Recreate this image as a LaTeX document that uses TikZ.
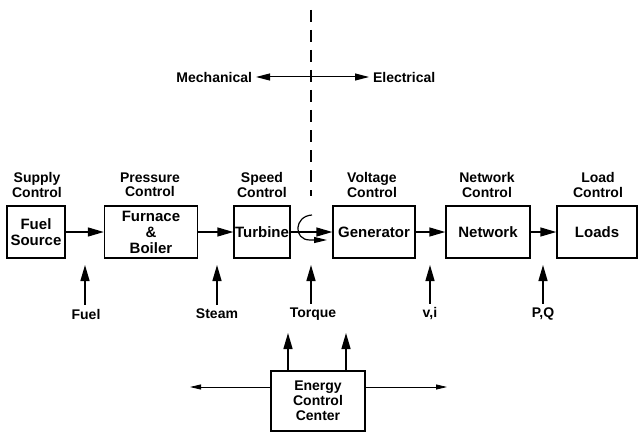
\documentclass[tikz,border=0pt]{standalone}
\usepackage{fontspec}
\setmainfont{Liberation Sans}
\usetikzlibrary{arrows.meta}

\begin{document}
\begin{tikzpicture}[x=1pt, y=-1pt, line width=1.4pt,
  font=\fontsize{14}{15}\selectfont\bfseries,
  block/.style={draw, inner sep=0pt, minimum height=52pt, align=center,
    font=\fontsize{15}{16}\selectfont\bfseries},
  ctrl/.style={align=center, font=\fontsize{14}{14.5}\selectfont\bfseries},
  flow/.style={-{Triangle[length=16pt,width=9pt]}},
  thinflow/.style={line width=0.8pt, -{Triangle[length=11pt,width=5pt]}}]
  \useasboundingbox (0,0) rectangle (639,433);
  % main chain
  \node[block, minimum width=58pt] (fuel) at (36,232) {Fuel\\Source};
  \node[block, minimum width=93pt] (furnace) at (151,232) {Furnace\\\&\\Boiler};
  \node[block, minimum width=56pt] (turbine) at (262,232) {Turbine};
  \node[block, minimum width=82pt] (generator) at (374,232) {Generator};
  \node[block, minimum width=84pt] (network) at (488,232) {Network};
  \node[block, minimum width=80pt] (loads) at (597,232) {Loads};
  \draw[flow] (fuel) -- (furnace);
  \draw[flow] (furnace) -- (turbine);
  \draw[flow] (turbine) -- (generator);
  \draw[flow] (generator) -- (network);
  \draw[flow] (network) -- (loads);
  % control labels
  \node[ctrl] (supplyctrl) at (37,185) {Supply\\Control};
  \node[ctrl] (pressctrl) at (150,185) {Pressure\\Control};
  \node[ctrl] (speedctrl) at (262,185) {Speed\\Control};
  \node[ctrl] (voltctrl) at (372,185) {Voltage\\Control};
  \node[ctrl] (netctrl) at (487,185) {Network\\Control};
  \node[ctrl] (loadctrl) at (598,185) {Load\\Control};
  % mechanical / electrical divide
  \coordinate (divtop) at (311,10);
  \coordinate (divbot) at (311,196);
  \draw[line width=1.5pt, dash pattern=on 12pt off 8pt] (divtop) -- (divbot);
  \node[anchor=east] (mech) at (256,77) {Mechanical};
  \node[anchor=west] (elec) at (369,77) {Electrical};
  \draw[line width=1pt, {Triangle[length=14pt,width=7pt]}-{Triangle[length=14pt,width=7pt]}] (mech.east) -- (elec.west);
  % shaft hook
  \coordinate (hookstart) at (312,215);
  \coordinate (hookend) at (327,240);
  \draw[line width=1.2pt, -{Triangle[length=13pt,width=6pt]}] (hookstart) .. controls (294,216) and (293,240) .. (310,240) -- (hookend);
  % inputs from below
  \node (lblfuel) at (86,314) {Fuel};
  \node (lblsteam) at (217,314) {Steam};
  \node (lbltorque) at (313,314) {Torque};
  \node (lblvi) at (430,314) {v,i};
  \node (lblpq) at (543,314) {P,Q};
  \coordinate (fueltip) at (85,265);
  \coordinate (steamtip) at (217,265);
  \coordinate (torquetip) at (311,265);
  \coordinate (vitip) at (430,265);
  \coordinate (pqtip) at (543,265);
  \draw[flow] (lblfuel.north -| fueltip) -- (fueltip);
  \draw[flow] (lblsteam.north -| steamtip) -- (steamtip);
  \draw[flow] (lbltorque.north -| torquetip) -- (torquetip);
  \draw[flow] (lblvi.north -| vitip) -- (vitip);
  \draw[flow] (lblpq.north -| pqtip) -- (pqtip);
  % energy control center
  \node[block, minimum width=94pt, minimum height=60pt, font=\fontsize{14}{15}\selectfont\bfseries] (ecc) at (318,401) {Energy\\Control\\Center};
  \coordinate (upleft) at (288,333);
  \coordinate (upright) at (346,333);
  \coordinate (eccwest) at (190,387);
  \coordinate (ecceast) at (447,387);
  \draw[flow] (ecc.north -| upleft) -- (upleft);
  \draw[flow] (ecc.north -| upright) -- (upright);
  \draw[thinflow] (ecc.west |- eccwest) -- (eccwest);
  \draw[thinflow] (ecc.east |- ecceast) -- (ecceast);
\end{tikzpicture}
\end{document}
